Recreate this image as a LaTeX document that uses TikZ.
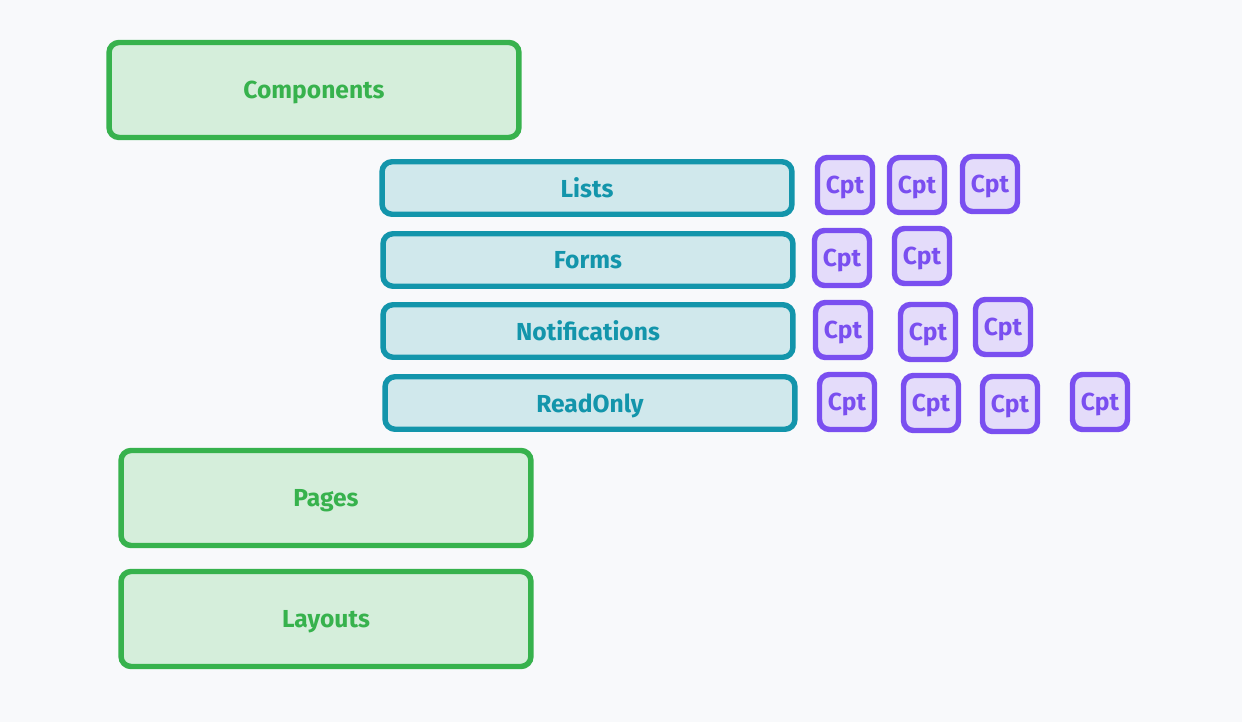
\documentclass[tikz,border=0pt]{standalone}
\usepackage{fontspec}
\setmainfont{Fira Sans}
\usepackage{tikz}
\definecolor{bgpage}{HTML}{F8F9FB}
\definecolor{grnline}{HTML}{37B24D}
\definecolor{grnfill}{HTML}{D5EEDB}
\definecolor{tealline}{HTML}{1395AB}
\definecolor{tealfill}{HTML}{D0E8EC}
\definecolor{purpline}{HTML}{7A4FF0}
\definecolor{purpfill}{HTML}{E4DCFA}

\begin{document}
\begin{tikzpicture}[x=0.02cm, y=-0.02cm, every node/.style={font=\bfseries\fontsize{14}{16}\selectfont, text depth=0pt}]
% Define styles
\tikzstyle{group} = [rectangle, rounded corners=0.2cm, minimum width=8.2cm, minimum height=1.9cm, align=center, draw=grnline, fill=grnfill, text=grnline, line width=3.1pt]
\tikzstyle{family} = [rectangle, rounded corners=0.2cm, minimum width=8.2cm, minimum height=1.05cm, align=center, draw=tealline, fill=tealfill, text=tealline, line width=3.1pt]
\tikzstyle{cpt} = [rectangle, rounded corners=0.2cm, minimum width=1.1cm, minimum height=1.1cm, align=center, draw=purpline, fill=purpfill, text=purpline, line width=3.1pt]
% Page
\fill [bgpage] (0,0) rectangle (1242,722);
\useasboundingbox (0,0) rectangle (1242,722);
% Place nodes
\node (comp) [group] at (314,90) {Components};
\node (lists) [family] at (587,188) {Lists};
\node (forms) [family] at (588,260) {Forms};
\node (notif) [family] at (588,331) {Notifications};
\node (ronly) [family] at (590,403) {ReadOnly};
\node (pages) [group] at (326,498) {Pages};
\node (layouts) [group] at (326,619) {Layouts};
% Components per family
\node (l1) [cpt] at (845,185) {Cpt};
\node (l2) [cpt] at (917,185) {Cpt};
\node (l3) [cpt] at (990,184) {Cpt};
\node (f1) [cpt] at (842,258) {Cpt};
\node (f2) [cpt] at (922,256) {Cpt};
\node (n1) [cpt] at (843,330) {Cpt};
\node (n2) [cpt] at (928,332) {Cpt};
\node (n3) [cpt] at (1003,327) {Cpt};
\node (r1) [cpt] at (847,402) {Cpt};
\node (r2) [cpt] at (931,403) {Cpt};
\node (r3) [cpt] at (1010,404) {Cpt};
\node (r4) [cpt] at (1100,402) {Cpt};
\end{tikzpicture}
\end{document}
